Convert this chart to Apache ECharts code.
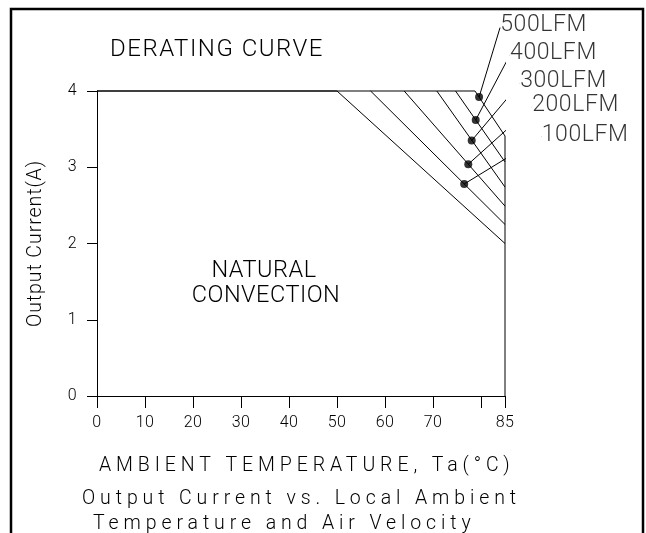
<!DOCTYPE html>
<html>
<head>
<meta charset="utf-8">
<script src="https://cdn.jsdelivr.net/npm/echarts@6/dist/echarts.min.js"></script>
<style>
html,body{margin:0;padding:0;background:#fff;}
#chart{width:646px;height:533px;}
</style>
</head>
<body>
<div id="chart"></div>
<script>
// ---------- data ----------
const xTickHidden = [80];                 // tick drawn but not labelled
const naturalT = [0, 50, 85];             // natural convection curve (°C)
const naturalI = [4, 4, 2];               // (A)
const lfmNames  = ['100LFM', '200LFM', '300LFM', '400LFM', '500LFM'];
const lfmStartT = [57, 64, 70.8, 74.7, 78.75];   // temperature where derating starts (I = 4 A)
const lfmEndI   = [2.25, 2.49, 2.74, 3.07, 3.41]; // current at 85 °C
const markerT   = [76.5, 77.35, 78.06, 78.9, 79.6];
const markerI   = [2.78, 3.04, 3.35, 3.62, 3.92];
const leaderEndT = [92.6, 90.6, 88.1, 86.0, 83.96];
const leaderEndI = [3.40, 3.79, 4.10, 4.47, 4.83];

// ---------- CAD-like letter spacing (per font size) ----------
const SPACING = {'19.5': 4.9, '19.6': 0.9, '23': 0.6, '24': 1.5, '16': 0.5, '23.5': 0.5};
['fillText', 'strokeText', 'measureText'].forEach(function (name) {
  const orig = CanvasRenderingContext2D.prototype[name];
  CanvasRenderingContext2D.prototype[name] = function () {
    const m = /(\d+(?:\.\d+)?)px/.exec(this.font);
    const sp = m ? (SPACING[m[1]] || 0) : 0;
    if ('letterSpacing' in this) this.letterSpacing = sp + 'px';
    return orig.apply(this, arguments);
  };
});

const FONT = 'Roboto';
const FW = 300;
const black = '#000';

const series = [];
series.push({
  type: 'line', name: 'Natural', data: naturalT.map((t, i) => [t, naturalI[i]]),
  symbol: 'none', lineStyle: {color: black, width: 1}, clip: false, silent: true
});
lfmNames.forEach((n, i) => {
  const pts = [[lfmStartT[i], 4], [85, lfmEndI[i]]];
  if (i === lfmNames.length - 1) { pts.unshift([0, 4]); pts.push([85, 0]); }
  series.push({
    type: 'line', name: n, data: pts, symbol: 'none',
    lineStyle: {color: black, width: 1}, clip: false, silent: true
  });
  series.push({
    type: 'line', name: n + ' leader',
    data: [[markerT[i], markerI[i]], [leaderEndT[i], leaderEndI[i]]],
    symbol: 'none', lineStyle: {color: black, width: 1}, clip: false, silent: true
  });
});
series.push({
  type: 'scatter', name: 'markers', data: markerT.map((t, i) => [t, markerI[i]]),
  symbol: 'circle', symbolSize: 8, itemStyle: {color: black}, clip: false, silent: true, z: 5
});
series.push({
  type: 'scatter', name: 'labels', clip: false, silent: true,
  data: lfmNames.map((n, i) => ({value: [leaderEndT[i], leaderEndI[i]], name: n})),
  symbol: 'circle', symbolSize: 0.5, itemStyle: {color: black},
  label: {show: true, position: 'right', distance: 0, offset: [0, -2], formatter: p => p.name,
    color: black, fontFamily: FONT, fontWeight: FW, fontSize: 23}
});

const chart = echarts.init(document.getElementById('chart'), null, {renderer: 'canvas'});
chart.setOption({
  backgroundColor: '#fff',
  animation: false,
  grid: {left: 97, right: 141, top: 91, bottom: 137, containLabel: false, outerBoundsMode: 'none'},
  xAxis: {
    type: 'value', min: 0, max: 85, interval: 10,
    axisLine: {show: true, lineStyle: {color: black, width: 1}},
    axisTick: {show: true, length: 12, lineStyle: {color: black, width: 1}},
    splitLine: {show: false},
    axisLabel: {margin: 19, color: black, fontFamily: FONT, fontWeight: FW, fontSize: 16,
      showMinLabel: true, showMaxLabel: true,
      formatter: v => xTickHidden.indexOf(v) >= 0 ? '' : String(v)}
  },
  yAxis: {
    type: 'value', min: 0, max: 4, interval: 1,
    name: 'Output Current(A)', nameLocation: 'middle', nameRotate: 90, nameGap: 50,
    nameTextStyle: {color: black, fontFamily: FONT, fontWeight: FW, fontSize: 19.6},
    axisLine: {show: true, lineStyle: {color: black, width: 1}},
    axisTick: {show: true, length: 10, lineStyle: {color: black, width: 1}},
    splitLine: {show: false},
    axisLabel: {margin: 20, color: black, fontFamily: FONT, fontWeight: FW, fontSize: 16}
  },
  series: series,
  graphic: [
    {type: 'rect', shape: {x: 11, y: 9, width: 632, height: 540}, style: {fill: 'none', stroke: black, lineWidth: 2.5}, silent: true},
    {type: 'text', x: 110, y: 50, style: {text: 'DERATING CURVE', fill: black, font: FW + ' 24px ' + FONT, textAlign: 'left', textVerticalAlign: 'middle'}},
    {type: 'text', x: 264, y: 271, style: {text: 'NATURAL', fill: black, font: FW + ' 23.5px ' + FONT, textAlign: 'center', textVerticalAlign: 'middle'}},
    {type: 'text', x: 266, y: 296, style: {text: 'CONVECTION', fill: black, font: FW + ' 23.5px ' + FONT, textAlign: 'center', textVerticalAlign: 'middle'}},
    {type: 'text', x: 99, y: 466, style: {text: 'AMBIENT TEMPERATURE, Ta(°C)', fill: black, font: FW + ' 19.5px ' + FONT, textAlign: 'left', textVerticalAlign: 'middle'}},
    {type: 'text', x: 82, y: 499, style: {text: 'Output Current vs. Local Ambient', fill: black, font: FW + ' 19.5px ' + FONT, textAlign: 'left', textVerticalAlign: 'middle'}},
    {type: 'text', x: 93, y: 524, style: {text: 'Temperature and Air Velocity', fill: black, font: FW + ' 19.5px ' + FONT, textAlign: 'left', textVerticalAlign: 'middle'}}
  ]
});
</script>
</body>
</html>
